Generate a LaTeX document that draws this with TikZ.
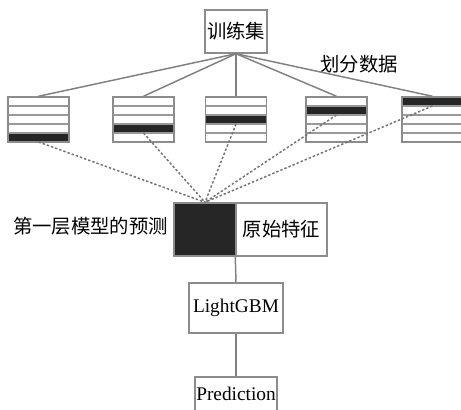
\documentclass[tikz,border=0pt]{standalone}
\usepackage{fontspec}
\setmainfont{Liberation Serif}
\newfontfamily\cjk{Noto Sans CJK SC}
\tikzset{
  line/.style={draw=black!50, line width=1.1pt},
  dots/.style={draw=black!55, line width=1.1pt, dash pattern=on 1.8pt off 1.5pt},
  rowline/.style={draw=black!40, line width=1pt},
  box/.style={draw=black!45, line width=1.1pt, fill=white, inner sep=0pt, font=\fontsize{14.5}{17}\selectfont},
  blk/.style={draw=black!45, line width=1.1pt, inner sep=0pt, minimum width=45.75pt, minimum height=33.75pt},
  txt/.style={inner sep=0pt, font=\fontsize{14.5}{17}\selectfont\cjk},
}

\begin{document}
\begin{tikzpicture}[x=0.75pt,y=-0.75pt]
  \useasboundingbox (0,0) rectangle (461,410);
  \node[box, minimum width=46.5pt, minimum height=32.25pt] (train) at (236,31.5) {\cjk 训练集};
  \node[txt] (split) at (359,64) {划分数据};
  \node[box, fill=black!85, minimum width=46.5pt, minimum height=39.75pt] (meta) at (205,229.5) {};
  \node[box, minimum width=68.25pt, minimum height=39.75pt] (raw) at (281.5,229.5) {\cjk 原始特征};
  \node[txt, anchor=east] (lab) at (168,226) {第一层模型的预测};
  \foreach \i/\x/\k in {1/38.5/5, 2/143.5/4, 3/236/3, 4/336.5/2, 5/432.5/1} {
    \fill[black!85] (\x-30.5,88+9*\k) rectangle (\x+30.5,97+9*\k);
    \foreach \r in {1,...,4}
      \draw[rowline] (\x-30.5,97+9*\r) -- (\x+30.5,97+9*\r);
    \node[blk] (b\i) at (\x,119.5) {};
    \coordinate (k\i) at (\x,97+9*\k);
    \draw[line] (train.south) -- (b\i.north);
    \draw[dots] (k\i) -- (meta.north);
  }
  \node[box, minimum width=70.5pt, minimum height=37.5pt] (lgbm) at (236,308) {LightGBM};
  \node[box, minimum width=61.5pt, minimum height=25.5pt] (out) at (236,394) {Prediction};
  \draw[line] (raw.south west) -- (lgbm.north);
  \draw[line] (lgbm.south) -- (out.north);
\end{tikzpicture}
\end{document}
